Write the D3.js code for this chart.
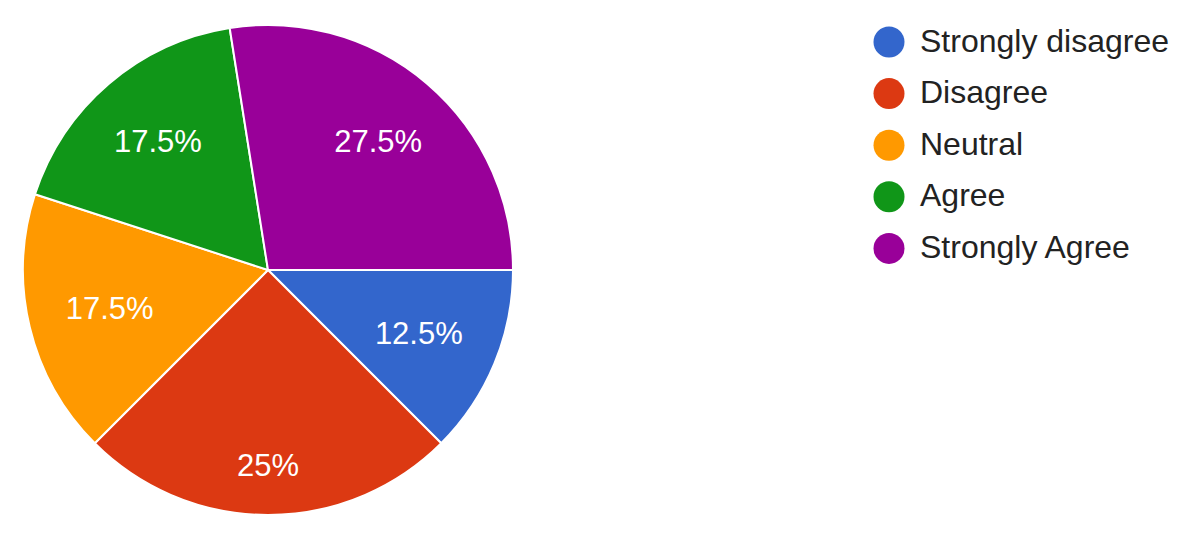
<!DOCTYPE html>
<html>
<head>
<meta charset="utf-8">
<script src="https://cdn.jsdelivr.net/npm/d3@7.8.5/dist/d3.min.js"></script>
<style>
  html, body { margin: 0; padding: 0; background: #fff; }
  svg { display: block; font-family: "Liberation Sans", Arial, sans-serif; }
</style>
</head>
<body>
<div id="chart"></div>
<script>
const categories = ['Strongly disagree', 'Disagree', 'Neutral', 'Agree', 'Strongly Agree'];
const percents = [12.5, 25, 17.5, 17.5, 27.5];
const colors = ['#3366cc', '#dc3912', '#ff9900', '#109618', '#990099'];

const width = 1200;
const height = 542;
const cx = 268, cy = 270, radius = 245;
const labelFont = 31;
const legendFont = 32;

const data = categories.map((c, i) => ({ name: c, value: percents[i], color: colors[i] }));

const svg = d3.select('#chart')
  .append('svg')
  .attr('width', width)
  .attr('height', height);

const pie = d3.pie()
  .sort(null)
  .value(d => d.value)
  .startAngle(Math.PI / 2)
  .endAngle(Math.PI / 2 + 2 * Math.PI);

const arc = d3.arc()
  .innerRadius(0)
  .outerRadius(radius);

const arcs = pie(data);

const g = svg.append('g')
  .attr('transform', `translate(${cx}, ${cy})`);

g.selectAll('path.slice')
  .data(arcs)
  .enter()
  .append('path')
  .attr('class', 'slice')
  .attr('d', arc)
  .attr('fill', d => d.data.color)
  .attr('stroke', '#fff')
  .attr('stroke-width', 2);

// labels: push the text box out until its far corner reaches a fixed radius
const cornerR = radius * 0.85;
const capH = labelFont * 0.72;

g.selectAll('text.pct')
  .data(arcs)
  .enter()
  .append('text')
  .attr('class', 'pct')
  .attr('text-anchor', 'middle')
  .attr('fill', '#fff')
  .style('font-size', labelFont + 'px')
  .text(d => d.data.value + '%')
  .each(function (d) {
    const w = this.getComputedTextLength();
    const a = (d.startAngle + d.endAngle) / 2;
    const ux = Math.sin(a), uy = -Math.cos(a);
    const sx = ux >= 0 ? 1 : -1, sy = uy >= 0 ? 1 : -1;
    const b = ux * sx * w / 2 + uy * sy * capH / 2;
    const c = (w * w + capH * capH) / 4 - cornerR * cornerR;
    const dist = -b + Math.sqrt(b * b - c);
    d3.select(this)
      .attr('x', dist * ux)
      .attr('y', dist * uy + capH / 2);
  });

// legend
const legendX = 889, legendY = 42, legendStep = 51.6;

const legend = svg.append('g')
  .selectAll('g.item')
  .data(data)
  .enter()
  .append('g')
  .attr('class', 'item')
  .attr('transform', (d, i) => `translate(${legendX}, ${legendY + i * legendStep})`);

legend.append('circle')
  .attr('r', 15.5)
  .attr('fill', d => d.color);

legend.append('text')
  .attr('x', 31)
  .attr('y', 9.5)
  .attr('fill', '#222')
  .style('font-size', legendFont + 'px')
  .text(d => d.name);
</script>
</body>
</html>
